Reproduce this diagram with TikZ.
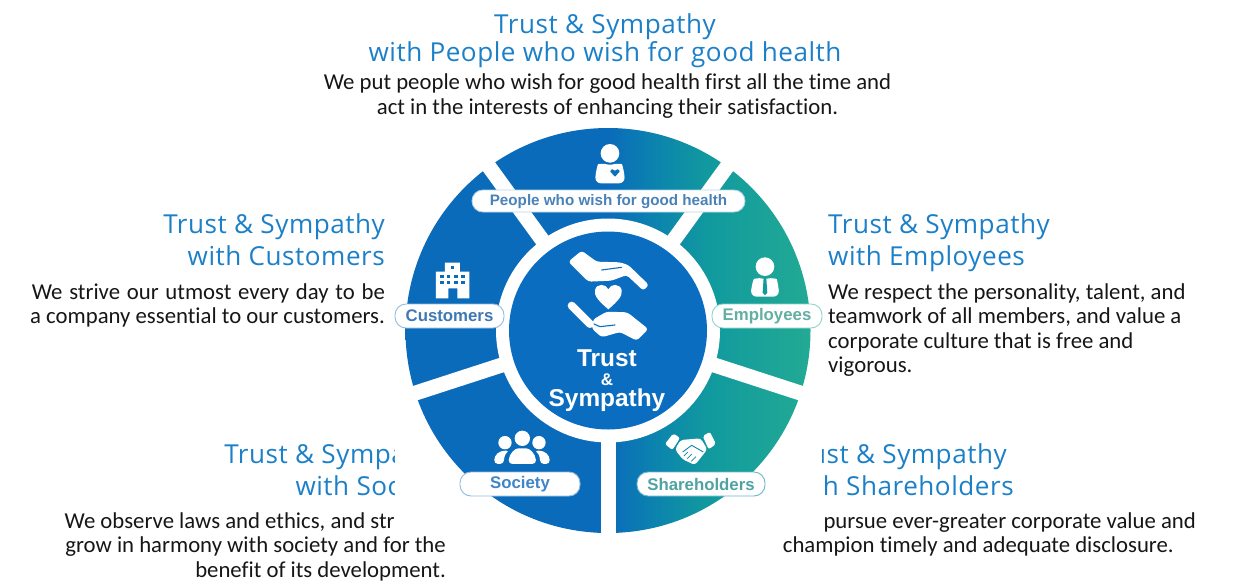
\documentclass[tikz,border=0pt]{standalone}
\usepackage{fontspec}
\setmainfont[Ligatures=NoCommon]{Carlito}
\newfontfamily\headfont[LetterSpace=2]{Open Sans}
\newfontfamily\pillfont{Liberation Sans}
\usetikzlibrary{calc}
\definecolor{headblue}{HTML}{1C80C8}
\definecolor{bodyink}{HTML}{161616}
\definecolor{wheelblue}{HTML}{0A6BBB}
\definecolor{wheelmid}{HTML}{0C84AE}
\definecolor{wheeldeep}{HTML}{119A9E}
\definecolor{wheelteal}{HTML}{22AA94}
\definecolor{corefill}{HTML}{0B6DBF}
\definecolor{ptext}{HTML}{4A82B8}
\definecolor{ctext}{HTML}{3F78B4}
\definecolor{etext}{HTML}{62B0A3}
\definecolor{stext}{HTML}{3E86C8}
\definecolor{htext}{HTML}{4FA3A2}
\pgfdeclarehorizontalshading{wheelshade}{100bp}{color(0bp)=(wheelblue); color(50bp)=(wheelblue); color(56bp)=(wheelmid); color(62.5bp)=(wheeldeep); color(75bp)=(wheelteal); color(100bp)=(wheelteal)}
\tikzset{
  headtext/.style={font=\headfont\fontsize{26.1}{28}\selectfont,text=headblue,inner sep=0pt},
  bodytext/.style={font=\fontsize{22.75}{24.5}\selectfont,text=bodyink,inner sep=0pt},
  pill/.style={draw=#1,fill=white,rounded corners=11pt,line width=0.9pt,inner sep=0pt},
  pilltext/.style={font=\pillfont\bfseries\fontsize{16.8}{18}\selectfont,text=#1,inner sep=0pt},
  coretext/.style={font=\pillfont\bfseries\fontsize{24.4}{24}\selectfont,text=white,inner sep=0pt},
  gap/.style={draw=white,line width=15pt},
  icon/.style={fill=white,draw=none}
}
\begin{document}
\begin{tikzpicture}[x=1pt,y=-1pt]
\useasboundingbox (0,0) rectangle (1234,581);
% texts
\node[headtext,align=center,anchor=north] (h1) at (605,13.5) {Trust \& Sympathy\\with People who wish for good health};
\node[bodytext,align=center,anchor=north] (b1) at (607.5,74) {We put people who wish for good health first all the time and\\act in the interests of enhancing their satisfaction.};
\node[headtext,align=right,anchor=north east] (h2) at (385,213.5) {Trust \& Sympathy\\[4pt]with Customers};
\node[bodytext,align=right,anchor=north east] (b2) at (385,283) {\makebox[353pt][s]{We strive our utmost every day to be}\\a company essential to our customers.};
\node[headtext,align=left,anchor=north west] (h3) at (828,213.5) {Trust \& Sympathy\\[4pt]with Employees};
\node[bodytext,align=left,anchor=north west] (b3) at (828,283) {We respect the personality, talent, and\\teamwork of all members, and value a\\corporate culture that is free and\\vigorous.};
\node[headtext,align=right,anchor=north east] (h4) at (446,443.5) {Trust \& Sympathy\\[4pt]with Society};
\node[bodytext,align=right,anchor=north east] (b4) at (446,512) {We observe laws and ethics, and strive to\\grow in harmony with society and for the\\benefit of its development.};
\node[headtext,align=left,anchor=north west] (h5) at (785,443.5) {Trust \& Sympathy\\[4pt]with Shareholders};
\node[bodytext,align=right,anchor=north east] (b5) at (1196,512) {We pursue ever-greater corporate value and\\champion timely and adequate disclosure.\hspace*{22pt}};
% white ground of the wheel picture
\fill[white] (395,128) rectangle (822,533);
% wheel
\coordinate (c) at (608,330.5);
\shade[shading=wheelshade] (c) circle (202.5);
\foreach \a in {18,90,162,234,306}{
  \draw[gap] ($(c)+(\a:100)$) -- ($(c)+(\a:208)$);
}
\fill[white] (c) circle (112);
\fill[corefill] (c) circle (99);
% core symbol (reference zoom grid)
\begin{scope}[shift={(500,230)},x=0.3333pt,y=-0.3333pt]
  \fill[icon,rounded corners=3pt] (205,95) -- (245,62) -- (290,95) -- (360,97) -- (385,105) -- (447,165) -- (430,182) -- (380,135) -- (335,152) -- (265,155) -- (240,130) -- cycle;
  \draw[corefill,line width=1.1pt,line cap=round] (305,120) -- (365,112);
  \fill[icon] (325,238) .. controls (295,212) and (282,198) .. (285,180) .. controls (290,160) and (318,160) .. (325,178) .. controls (332,160) and (360,160) .. (365,180) .. controls (368,198) and (355,212) .. (325,238) -- cycle;
  \draw[white,line width=8pt,line cap=round] (215,227) -- (270,282);
  \fill[icon,rounded corners=3pt] (280,268) -- (320,245) -- (382,247) -- (445,297) -- (410,332) -- (360,306) -- (305,322) -- (275,295) -- cycle;
  \draw[corefill,line width=1.1pt,line cap=round] (282,282) -- (300,290) -- (345,285);
\end{scope}
\node[coretext] (t1) at (607,358) {Trust};
\node[coretext,font=\pillfont\bfseries\fontsize{17}{17}\selectfont] (t2) at (607,380) {\&};
\node[coretext] (t3) at (607,400) {Sympathy};
% pills
\node[pill=white!70!wheelblue,minimum width=273pt,minimum height=22pt] (p1) at (608.5,201) {};
\node[pilltext=ptext,font=\pillfont\bfseries\fontsize{15.2}{16}\selectfont,yshift=-1pt] (p1t) at (p1) {People who wish for good health};
\node[pill=wheelblue!45!white,minimum width=109pt,minimum height=24pt] (p2) at (449.5,316) {};
\node[pilltext=ctext] (p2t) at (p2) {Customers};
\node[pill=wheelteal!50!white,minimum width=110pt,minimum height=24pt] (p3) at (767,316) {};
\node[pilltext=etext] (p3t) at (p3) {Employees};
\node[pill=wheelblue!45!white,minimum width=120pt,minimum height=24pt] (p4) at (520,484) {};
\node[pilltext=stext] (p4t) at (p4) {Society};
\node[pill=wheelmid!60!white,minimum width=128pt,minimum height=24pt] (p5) at (701,484) {};
\node[pilltext=htext] (p5t) at (p5) {Shareholders};
% person with heart
\begin{scope}[shift={(380,120)},x=0.3333pt,y=-0.3333pt]
  \fill[icon] (690,100) circle (28);
  \fill[icon,rounded corners=6pt] (645,190) -- (648,150) .. controls (655,130) and (675,132) .. (690,138) .. controls (705,132) and (725,130) .. (732,150) -- (735,190) -- cycle;
  \fill[wheelblue!90!wheelteal] (705,170) -- (691,155) .. controls (692,146) and (702,146) .. (705,152) .. controls (708,146) and (718,146) .. (719,155) -- cycle;
  % employee
  \fill[icon] (1155,440) circle (28);
  \fill[icon,rounded corners=6pt] (1112,530) -- (1115,495) .. controls (1122,475) and (1140,475) .. (1155,478) .. controls (1170,475) and (1190,475) .. (1195,495) -- (1198,530) -- cycle;
  \fill[wheeldeep] (1151,474) -- (1159,474) -- (1162,518) -- (1155,526) -- (1148,518) -- cycle;
  % building
  \fill[icon] (168,535) -- (168,455) -- (195,455) -- (195,428) -- (240,428) -- (240,455) -- (268,455) -- (268,535) -- (232,535) -- (232,505) -- (205,505) -- (205,535) -- cycle;
  \foreach \r in {465,482}{\foreach \q in {180,200,222,243}{
    \fill[wheelblue] (\q,\r) rectangle +(11,9);}}
  \fill[wheelblue] (212,438) rectangle +(11,8);
\end{scope}
% society
\begin{scope}[shift={(380,330)},x=0.3333pt,y=-0.3333pt]
  \fill[icon] (375,338) circle (20);
  \fill[icon] (427,325) circle (23);
  \fill[icon] (477,338) circle (20);
  \fill[icon,rounded corners=4pt] (342,402) .. controls (344,375) and (355,362) .. (390,362) .. controls (375,372) and (372,385) .. (372,402) -- cycle;
  \fill[icon,rounded corners=4pt] (510,402) .. controls (508,375) and (497,362) .. (462,362) .. controls (477,372) and (480,385) .. (480,402) -- cycle;
  \fill[icon,rounded corners=4pt] (385,402) .. controls (388,370) and (405,355) .. (427,355) .. controls (449,355) and (466,370) .. (469,402) -- cycle;
\end{scope}
% handshake
\begin{scope}[shift={(460,420)},x=0.3333pt,y=-0.3333pt]
  \fill[icon,rounded corners=2pt] (615,72) -- (640,40) -- (660,54) -- (637,90) -- cycle;
  \fill[icon,rounded corners=2pt] (768,72) -- (750,36) -- (728,48) -- (746,88) -- cycle;
  \fill[icon,rounded corners=3pt] (645,88) -- (662,60) -- (722,55) -- (742,88) -- (705,135) -- (668,118) -- cycle;
  \draw[wheelmid,line width=0.9pt] (668,96) -- (695,76) -- (730,96);
  \draw[wheelmid,line width=0.7pt] (672,108) -- (684,96) (682,116) -- (696,102) (694,124) -- (708,110);
\end{scope}
\end{tikzpicture}
\end{document}
